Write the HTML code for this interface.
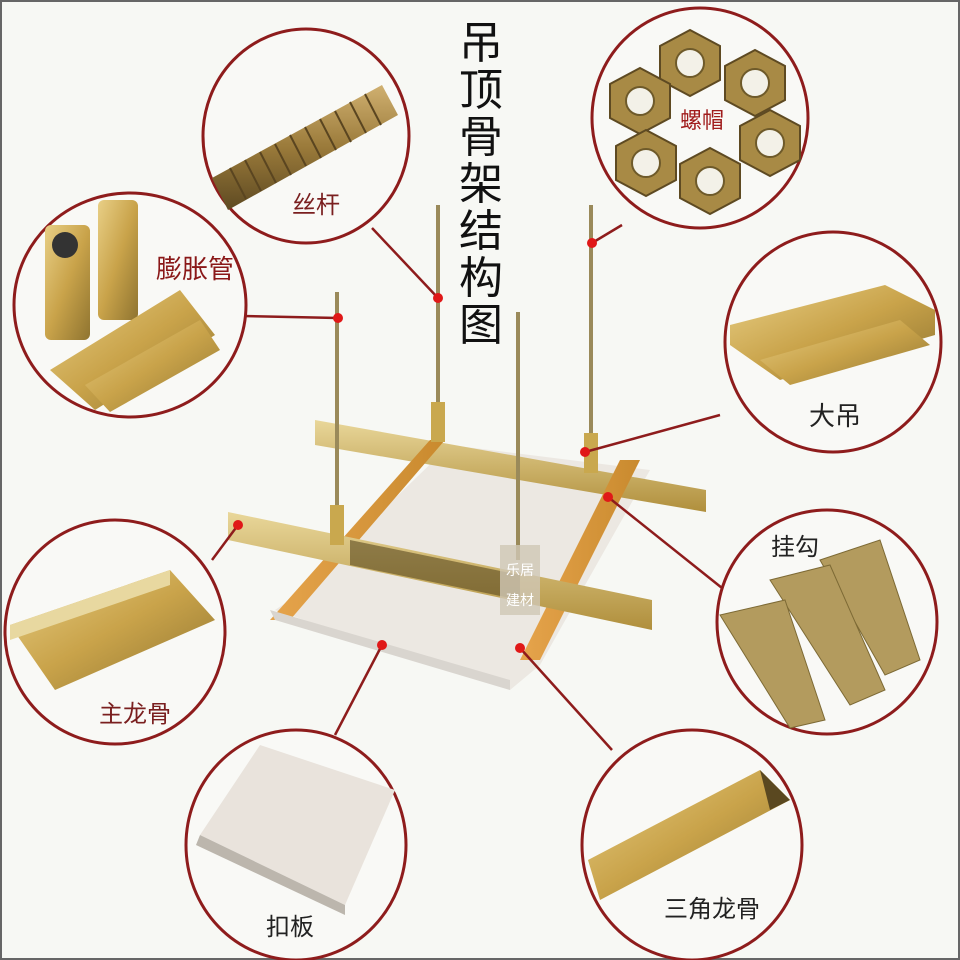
<!DOCTYPE html>
<html><head><meta charset="utf-8"><style>
html,body{margin:0;padding:0;background:#f7f8f4;}
svg{display:block}
text{font-family:"Liberation Sans","Noto Sans CJK SC",sans-serif;}
</style></head><body>
<svg width="960" height="960" viewBox="0 0 960 960">
<rect x="0" y="0" width="960" height="960" fill="#f7f8f4"/>
<rect x="0.5" y="0.5" width="959" height="959" fill="none" stroke="#666" stroke-width="3"/>
<defs>
<linearGradient id="gold" x1="0" y1="0" x2="1" y2="1"><stop offset="0" stop-color="#e8cf86"/><stop offset="0.5" stop-color="#c9a34a"/><stop offset="1" stop-color="#8f7430"/></linearGradient>
<linearGradient id="rod" x1="0" y1="0" x2="0" y2="1"><stop offset="0" stop-color="#d0b070"/><stop offset="0.5" stop-color="#9a7a3a"/><stop offset="1" stop-color="#5e4a22"/></linearGradient>
<linearGradient id="bar" x1="0" y1="0" x2="0" y2="1"><stop offset="0" stop-color="#e9d79a"/><stop offset="1" stop-color="#b08f3c"/></linearGradient>
<linearGradient id="orng" x1="0" y1="0" x2="1" y2="0"><stop offset="0" stop-color="#e6a44c"/><stop offset="1" stop-color="#c98a2e"/></linearGradient>
</defs>

<!-- title -->
<g font-size="44" fill="#111" text-anchor="middle">
<text x="481" y="58">吊</text><text x="481" y="105">顶</text><text x="481" y="152">骨</text><text x="481" y="199">架</text><text x="481" y="246">结</text><text x="481" y="293">构</text><text x="481" y="340">图</text>
</g>

<!-- frame -->
<polygon points="290,600 450,445 650,470 540,665 510,690 275,610" fill="#ece8e2"/>
<polygon points="315,420 706,490 706,512 315,445" fill="url(#bar)"/>
<polygon points="430,440 445,440 290,620 270,620" fill="url(#orng)"/>
<polygon points="620,460 640,460 540,660 520,660" fill="url(#orng)"/>
<polygon points="228,512 652,600 652,630 228,540" fill="url(#bar)"/>
<polygon points="350,540 520,575 520,600 350,565" fill="#5a4a20" opacity="0.6"/>
<polygon points="270,610 510,680 510,690 275,620" fill="#d9d5cf"/>

<!-- rods -->
<g stroke="#9a8a5a" stroke-width="4">
<line x1="337" y1="292" x2="337" y2="540"/>
<line x1="438" y1="205" x2="438" y2="430"/>
<line x1="518" y1="312" x2="518" y2="560"/>
<line x1="591" y1="205" x2="591" y2="455"/>
</g>
<rect x="330" y="505" width="14" height="40" fill="#c9a84e"/>
<rect x="431" y="402" width="14" height="40" fill="#c9a84e"/>
<rect x="584" y="433" width="14" height="40" fill="#c9a84e"/>
<rect x="500" y="545" width="40" height="70" fill="#cfc7b5" opacity="0.8"/>
<text x="520" y="575" font-size="14" fill="#fff" text-anchor="middle">乐居</text>
<text x="520" y="605" font-size="14" fill="#fff" text-anchor="middle">建材</text>

<!-- connectors -->
<g stroke="#8e1c1c" stroke-width="2.5" fill="none">
<line x1="372" y1="228" x2="438" y2="298"/>
<line x1="622" y1="225" x2="592" y2="243"/>
<line x1="243" y1="316" x2="338" y2="318"/>
<line x1="720" y1="415" x2="585" y2="452"/>
<line x1="722" y1="588" x2="608" y2="497"/>
<line x1="212" y1="560" x2="238" y2="525"/>
<line x1="335" y1="735" x2="382" y2="645"/>
<line x1="612" y1="750" x2="520" y2="648"/>
</g>
<g fill="#e01818">
<circle cx="438" cy="298" r="5"/><circle cx="592" cy="243" r="5"/><circle cx="338" cy="318" r="5"/>
<circle cx="585" cy="452" r="5"/><circle cx="608" cy="497" r="5"/><circle cx="238" cy="525" r="5"/>
<circle cx="382" cy="645" r="5"/><circle cx="520" cy="648" r="5"/>
</g>

<!-- circles -->
<g fill="#f9f9f6" stroke="#8e1c1c" stroke-width="3">
<ellipse cx="306" cy="136" rx="103" ry="107"/>
<ellipse cx="700" cy="118" rx="108" ry="110"/>
<ellipse cx="130" cy="305" rx="116" ry="112"/>
<ellipse cx="833" cy="342" rx="108" ry="110"/>
<ellipse cx="827" cy="622" rx="110" ry="112"/>
<ellipse cx="115" cy="632" rx="110" ry="112"/>
<ellipse cx="296" cy="845" rx="110" ry="115"/>
<ellipse cx="692" cy="845" rx="110" ry="115"/>
</g>

<!-- threaded rod -->
<polygon points="212,178 382,85 398,115 228,210" fill="url(#rod)"/>
<g stroke="#5a4520" stroke-width="2">
<line x1="230" y1="168" x2="246" y2="199"/><line x1="245" y1="160" x2="261" y2="191"/><line x1="260" y1="152" x2="276" y2="183"/><line x1="275" y1="144" x2="291" y2="175"/><line x1="290" y1="135" x2="306" y2="166"/><line x1="305" y1="127" x2="321" y2="158"/><line x1="320" y1="119" x2="336" y2="150"/><line x1="335" y1="111" x2="351" y2="142"/><line x1="350" y1="102" x2="366" y2="133"/><line x1="365" y1="94" x2="381" y2="125"/>
</g>
<text x="316" y="213" font-size="24" fill="#7a1f1f" text-anchor="middle">丝杆</text>

<!-- nuts -->
<g fill="#a88a45" stroke="#5e4a22" stroke-width="2">
<polygon points="690,30 720,46 720,80 690,96 660,80 660,46"/>
<polygon points="755,50 785,66 785,100 755,116 725,100 725,66"/>
<polygon points="640,68 670,84 670,118 640,134 610,118 610,84"/>
<polygon points="770,110 800,126 800,160 770,176 740,160 740,126"/>
<polygon points="646,130 676,146 676,180 646,196 616,180 616,146"/>
<polygon points="710,148 740,164 740,198 710,214 680,198 680,164"/>
</g>
<g fill="#f3f1e8" stroke="#6e5a2a" stroke-width="2">
<circle cx="690" cy="63" r="14"/><circle cx="755" cy="83" r="14"/><circle cx="640" cy="101" r="14"/><circle cx="770" cy="143" r="14"/><circle cx="646" cy="163" r="14"/><circle cx="710" cy="181" r="14"/>
</g>
<text x="702" y="128" font-size="22" fill="#a01c1c" text-anchor="middle">螺帽</text>

<!-- expansion tubes -->
<g fill="url(#gold)">
<rect x="45" y="225" width="45" height="115" rx="6"/>
<rect x="98" y="200" width="40" height="120" rx="6"/>
<polygon points="50,370 180,290 215,335 95,410"/>
<polygon points="85,385 200,320 220,350 110,412"/>
</g>
<circle cx="65" cy="245" r="13" fill="#333"/>
<text x="195" y="278" font-size="26" fill="#8a1818" text-anchor="middle">膨胀管</text>

<!-- da diao -->
<g fill="url(#gold)">
<polygon points="730,325 885,285 935,310 935,335 780,380 730,345"/>
<polygon points="760,360 900,320 930,345 790,385"/>
</g>
<text x="835" y="425" font-size="26" fill="#222" text-anchor="middle">大吊</text>

<!-- hooks -->
<g fill="#b39b5e" stroke="#7d6a35" stroke-width="1">
<polygon points="820,560 880,540 920,660 885,675"/>
<polygon points="770,580 830,565 885,690 850,705"/>
<polygon points="720,615 785,600 825,720 790,728"/>
</g>
<text x="795" y="555" font-size="24" fill="#222" text-anchor="middle">挂勾</text>

<!-- main keel -->
<polygon points="10,625 170,570 215,620 55,690" fill="url(#gold)"/>
<polygon points="10,625 170,570 170,585 10,640" fill="#e8d8a0"/>
<text x="135" y="722" font-size="24" fill="#7a1f1f" text-anchor="middle">主龙骨</text>

<!-- panel -->
<polygon points="200,835 260,745 395,790 345,905" fill="#e9e3dc"/>
<polygon points="200,835 345,905 345,915 196,845" fill="#bcb6ad"/>
<text x="290" y="935" font-size="24" fill="#222" text-anchor="middle">扣板</text>

<!-- triangle keel -->
<polygon points="588,860 760,770 790,800 600,900" fill="url(#gold)"/>
<polygon points="760,770 790,800 770,810" fill="#5a4820"/>
<text x="712" y="917" font-size="24" fill="#222" text-anchor="middle">三角龙骨</text>
</svg>
</body></html>
